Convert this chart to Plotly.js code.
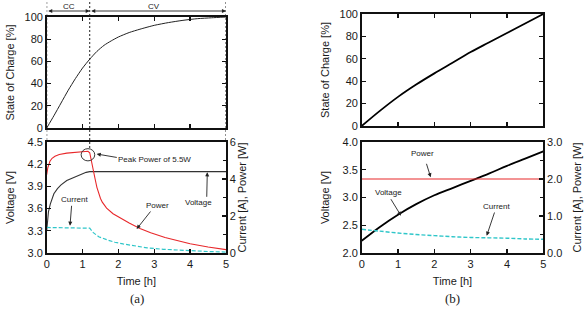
<!DOCTYPE html>
<html>
<head>
<meta charset="utf-8">
<script src="https://cdn.plot.ly/plotly-3.0.1.min.js"></script>
<style>
  html, body { margin: 0; padding: 0; background: #fff; }
  #chart { width: 587px; height: 317px; }
</style>
</head>
<body>
<div id="chart"></div>
<script>
// ---- (a) CC-CV charging ----
const tA_soc = [0, 0.2, 0.4, 0.6, 0.8, 1.0, 1.2, 1.4, 1.6, 1.8, 2.0, 2.3, 2.6, 3.0, 3.4, 3.8, 4.2, 4.6, 5.0];
const socA   = [0, 11, 22.5, 34, 44.5, 54, 62, 69, 74.5, 78.5, 82, 86, 89, 92.5, 95, 97, 98.5, 99.3, 100];

const tA_v = [0, 0.02, 0.05, 0.1, 0.15, 0.2, 0.3, 0.4, 0.56, 0.7, 0.85, 1.0, 1.1, 1.2, 5.0];
const voltA = [3.30, 3.45, 3.56, 3.66, 3.74, 3.80, 3.87, 3.92, 3.98, 4.01, 4.04, 4.07, 4.09, 4.10, 4.10];

const tA_p = [0, 0.03, 0.09, 0.15, 0.23, 0.35, 0.56, 0.8, 1.02, 1.15, 1.2, 1.25, 1.3, 1.35, 1.4, 1.45, 1.5, 1.55, 1.6, 1.67, 1.85, 2.04, 2.3, 2.6, 2.9, 3.3, 3.6, 4.0, 4.5, 5.0];
const powerA = [4.23, 4.6, 4.96, 5.12, 5.23, 5.32, 5.4, 5.45, 5.5, 5.5, 5.42, 5.0, 4.5, 4.0, 3.55, 3.2, 2.95, 2.75, 2.6, 2.43, 2.12, 1.89, 1.62, 1.33, 1.1, 0.84, 0.68, 0.5, 0.32, 0.18];

const tA_i = [0, 0.5, 1.0, 1.15, 1.2, 1.3, 1.45, 1.67, 1.9, 2.13, 2.46, 2.8, 3.25, 3.6, 4.0, 4.5, 5.0];
const currentA = [1.38, 1.38, 1.38, 1.37, 1.34, 1.1, 0.88, 0.72, 0.58, 0.49, 0.37, 0.28, 0.2, 0.16, 0.12, 0.08, 0.05];

const ccEnd = 1.2;          // end of constant-current phase [h]
const peakPowerLabel = 'Peak Power of 5.5W';

// ---- (b) constant-power charging ----
const tB = [0, 0.5, 1, 1.5, 2, 2.5, 3, 3.5, 4, 4.5, 5];
const socB = [0, 13.5, 26, 37, 47, 56.5, 66, 74.5, 83, 91.5, 100];
const voltB = [2.22, 2.47, 2.69, 2.88, 3.04, 3.17, 3.30, 3.43, 3.57, 3.70, 3.83];
const currentB = [0.64, 0.59, 0.54, 0.50, 0.47, 0.44, 0.42, 0.41, 0.40, 0.38, 0.37];
const tB_p = [0, 5];
const powerB = [2.0, 2.0];

const timeTicks = [0, 1, 2, 3, 4, 5];

// ---- page geometry (px) ----
const W = 587, H = 317;
const px = v => v / W;
const py = v => 1 - v / H;

const FONT = 'Liberation Sans, Arial, sans-serif';
const RED = '#e8282b', CYAN = '#2fc6c9', INK = '#111';

const axBase = {
  showline: true, linecolor: INK, linewidth: 1.6,
  ticks: 'inside', ticklen: 4, tickwidth: 1.3, tickcolor: INK,
  showgrid: false, zeroline: false, fixedrange: true,
  tickfont: { family: FONT, size: 11, color: '#1a1a1a' }
};
const titleFont = { family: FONT, size: 11, color: '#1a1a1a' };

function xTop(domain, anchor) {
  return Object.assign({}, axBase, { domain, anchor, range: [0, 5], tickvals: timeTicks,
    showticklabels: false, mirror: 'ticks' });
}
function xBottom(domain, anchor) {
  return Object.assign({}, axBase, { domain, anchor, range: [0, 5], tickvals: timeTicks,
    mirror: true, title: { text: 'Time [h]', font: titleFont, standoff: 8 } });
}
function ySoc(domain, anchor) {
  return Object.assign({}, axBase, { domain, anchor, range: [0, 100], dtick: 20,
    mirror: 'ticks', title: { text: 'State of Charge [%]', font: titleFont } });
}

const xDomA = [px(46.7), px(226)];
const xDomB = [px(361.7), px(543.3)];
const yLow = [py(253), py(142)];

const traces = [
  { x: tA_soc, y: socA, xaxis: 'x', yaxis: 'y', mode: 'lines', line: { color: '#222', width: 1, shape: 'spline', smoothing: 0.6 } },
  { x: tA_v, y: voltA, xaxis: 'x2', yaxis: 'y2', mode: 'lines', line: { color: '#333', width: 1.1 } },
  { x: tA_p, y: powerA, xaxis: 'x2', yaxis: 'y3', mode: 'lines', line: { color: RED, width: 1.1 } },
  { x: tA_i, y: currentA, xaxis: 'x2', yaxis: 'y3', mode: 'lines', line: { color: CYAN, width: 1.2, dash: '4px,2px' } },
  { x: tB, y: socB, xaxis: 'x3', yaxis: 'y4', mode: 'lines', line: { color: '#000', width: 1.8, shape: 'spline' } },
  { x: tB_p, y: powerB, xaxis: 'x4', yaxis: 'y6', mode: 'lines', line: { color: RED, width: 1.2 } },
  { x: tB, y: voltB, xaxis: 'x4', yaxis: 'y5', mode: 'lines', line: { color: '#000', width: 1.8, shape: 'spline' } },
  { x: tB, y: currentB, xaxis: 'x4', yaxis: 'y6', mode: 'lines', line: { color: CYAN, width: 1.4, dash: '4px,2px', shape: 'spline' } }
];

function label(text, x, y, size, family) {
  return { text, xref: 'paper', yref: 'paper', x: px(x), y: py(y), showarrow: false,
    font: { family: family || FONT, size: size || 8, color: '#222' }, xanchor: 'center', yanchor: 'middle' };
}
function pointer(x0, y0, x1, y1) {
  // arrow from tail (x0,y0) to head (x1,y1), page pixels
  return { text: '', xref: 'paper', yref: 'paper', x: px(x1), y: py(y1),
    ax: x0 - x1, ay: y0 - y1, axref: 'pixel', ayref: 'pixel', showarrow: true,
    arrowhead: 2, arrowsize: 0.9, arrowwidth: 0.9, arrowcolor: '#222', standoff: 0 };
}
function span(x0, x1, y) {
  return { text: '', xref: 'x', yref: 'paper', x: x1, y: py(y), axref: 'x', ax: x0,
    ayref: 'pixel', ay: 0, showarrow: true, arrowside: 'end+start',
    arrowhead: 2, startarrowhead: 2, arrowsize: 0.9, startarrowsize: 0.9,
    arrowwidth: 0.9, arrowcolor: '#222' };
}

const SERIF = 'Liberation Serif, Times New Roman, serif';
const annotations = [
  label('CC', 69, 7), label('CV', 154, 7),
  span(0, ccEnd, 11), span(ccEnd, 5, 11),
  label(peakPowerLabel, 154.5, 159), pointer(118.3, 157.7, 96.7, 154),
  label('Current', 74.5, 199.5), pointer(71.7, 204.3, 70, 225.7),
  label('Power', 157, 205), pointer(151.7, 210, 136.7, 229),
  label('Voltage', 198.5, 202.5), pointer(206.7, 198.3, 207.3, 172.3),
  label('Power', 422.5, 153), pointer(426, 162.3, 430.7, 177.3),
  label('Voltage', 388.8, 192.8), pointer(390, 197.7, 401, 215.7),
  label('Current', 496.7, 206), pointer(495, 211, 486.7, 235.7),
  label('(a)', 137, 298, 13, SERIF),
  label('(b)', 452, 298, 13, SERIF)
];

const dashLine = { color: '#222', width: 1, dash: '2px,2px' };
const shapes = [
  { type: 'line', xref: 'x', yref: 'paper', x0: 0, x1: 0, y0: py(2), y1: py(142), line: dashLine },
  { type: 'line', xref: 'x', yref: 'paper', x0: 5, x1: 5, y0: py(2), y1: py(142), line: dashLine },
  { type: 'line', xref: 'x', yref: 'paper', x0: ccEnd, x1: ccEnd, y0: py(2), y1: py(150), line: dashLine },
  { type: 'circle', xref: 'x2', yref: 'y2', x0: 0.96, x1: 1.34, y0: 4.245, y1: 4.41,
    line: { color: '#222', width: 0.9 } }
];

const layout = {
  width: W, height: H, margin: { l: 0, r: 0, t: 0, b: 0 },
  paper_bgcolor: '#fff', plot_bgcolor: '#fff', showlegend: false,
  font: { family: FONT, size: 11, color: '#1a1a1a' },
  xaxis: xTop(xDomA, 'y'),
  yaxis: ySoc([py(128), py(17)], 'x'),
  xaxis2: xBottom(xDomA, 'y2'),
  yaxis2: Object.assign({}, axBase, { domain: yLow, anchor: 'x2', range: [3.0, 4.5], dtick: 0.3,
    tickformat: '.1f', title: { text: 'Voltage [V]', font: titleFont } }),
  yaxis3: Object.assign({}, axBase, { overlaying: 'y2', side: 'right', anchor: 'x2', range: [0, 6],
    dtick: 2, minor: { dtick: 1, ticks: 'inside', ticklen: 3, tickcolor: INK },
    title: { text: 'Current [A], Power [W]', font: titleFont, standoff: 3 } }),
  xaxis3: xTop(xDomB, 'y4'),
  yaxis4: ySoc([py(126), py(14)], 'x3'),
  xaxis4: xBottom(xDomB, 'y5'),
  yaxis5: Object.assign({}, axBase, { domain: yLow, anchor: 'x4', range: [2.0, 4.0], dtick: 0.5,
    tickformat: '.1f', title: { text: 'Voltage [V]', font: titleFont } }),
  yaxis6: Object.assign({}, axBase, { overlaying: 'y5', side: 'right', anchor: 'x4', range: [0, 3],
    dtick: 1, tickformat: '.1f', minor: { dtick: 0.5, ticks: 'inside', ticklen: 3, tickcolor: INK },
    title: { text: 'Current [A], Power [W]', font: titleFont } }),
  annotations, shapes
};

Plotly.newPlot('chart', traces, layout, { staticPlot: true, displayModeBar: false });
</script>
</body>
</html>
